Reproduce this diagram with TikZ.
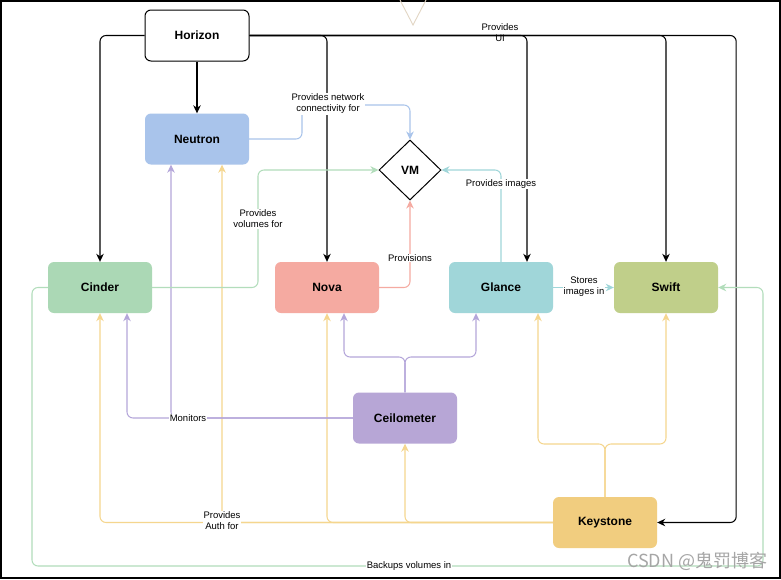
\documentclass[tikz,border=0pt]{standalone}
\usepackage{fontspec}
\setmainfont{Liberation Sans}
\newfontfamily\cjkwm{Noto Sans CJK SC}
\usetikzlibrary{arrows.meta,shapes.geometric}
\definecolor{cNeu}{HTML}{A9C4EB}
\definecolor{cCin}{HTML}{ABD8B5}
\definecolor{cNova}{HTML}{F5AAA1}
\definecolor{cGla}{HTML}{A0D6D9}
\definecolor{cSwi}{HTML}{C0CF8A}
\definecolor{cCei}{HTML}{B7A6D6}
\definecolor{cKey}{HTML}{F1CD7F}
\definecolor{lBlue}{HTML}{A9C4EB}
\definecolor{lGreen}{HTML}{B2DDBB}
\definecolor{lSalmon}{HTML}{F5AAA1}
\definecolor{lTeal}{HTML}{A0D6D9}
\definecolor{lPurple}{HTML}{B4A6DA}
\definecolor{lYellow}{HTML}{F5D68E}
\definecolor{lTri}{HTML}{E2D6C4}
\tikzset{
  comp/.style={rectangle, rounded corners=6pt, minimum width=104pt, minimum height=51pt,
    font=\fontsize{12}{14}\selectfont\bfseries, inner sep=0pt},
  conn/.style={line width=1.05pt, rounded corners=6pt, -{Stealth[length=8pt,width=7.5pt,inset=2.5pt]}},
  elabel/.style={font=\fontsize{9.5}{11}\selectfont, align=center, inner sep=1pt},
  wlabel/.style={elabel, fill=white},
}
\begin{document}
\begin{tikzpicture}[x=1pt,y=-1pt]
\useasboundingbox (0,0) rectangle (781,579);
\fill[white] (0,0) rectangle (781,579);
% frame
\draw[line width=2pt] (1,1) rectangle (780,578);
% partial triangle at top
\draw[lTri, line width=0.9pt] (400,0) -- (413,25) -- (426,0);

% nodes
\node[comp, draw=black, line width=1pt, fill=white] (hz) at (197,35.5) {Horizon};
\node[comp, fill=cNeu] (neu) at (197,139) {Neutron};
\node[diamond, draw=black, line width=1pt, minimum width=62pt, minimum height=60pt, inner sep=0pt,
  font=\fontsize{12}{14}\selectfont\bfseries, fill=white] (vm) at (410,170) {VM};
\node[comp, fill=cCin] (cin) at (100,287.5) {Cinder};
\node[comp, fill=cNova] (nova) at (327,287.5) {Nova};
\node[comp, fill=cGla] (gla) at (501,287.5) {Glance};
\node[comp, fill=cSwi] (swi) at (666,287.5) {Swift};
\node[comp, fill=cCei] (cei) at (405,418) {Ceilometer};
\node[comp, fill=cKey] (key) at (605,522.5) {Keystone};

% waypoints
\coordinate (nb1) at (302,105);
\coordinate (cg1) at (258,170);
\coordinate (cj) at (405,357);
\coordinate (kj) at (605,444);
\coordinate (bb1) at (32,566);
\coordinate (bb2) at (763,566);

% black: Horizon
\draw[conn] (hz.south) -- (neu.north);
\draw[conn] (hz.west) -| (cin.north);
\draw[conn] (hz.east) -| (nova.north);
\draw[conn] (hz.east) -| ([xshift=26pt]gla.north);
\draw[conn] (hz.east) -| (swi.north);
\draw[conn] (hz.east) -| ([xshift=79pt]key.east) -- (key.east);
\node[elabel] (lui) at (500,33) {Provides\\UI};

% green backup (drawn first, underneath)
\draw[conn, lGreen] (cin.west) -| (bb1) -- (bb2) |- (swi.east);
\node[wlabel] (lbk) at (409,566) {Backups volumes in};

% yellow: Keystone
\draw[conn, lYellow] (key.north) -- (kj) -| ([xshift=37pt]gla.south);
\draw[conn, lYellow] (key.north) -- (kj) -| (swi.south);
\draw[conn, lYellow] (key.west) -| (cei.south);
\draw[conn, lYellow] (key.west) -| (nova.south);
\draw[conn, lYellow] (key.west) -| ([xshift=25pt]neu.south);
\draw[conn, lYellow] (key.west) -| (cin.south);
\node[wlabel] (lauth) at (222,521) {Provides\\Auth for};

% purple: Ceilometer
\draw[conn, lPurple] (cei.north) -- (cj) -| ([xshift=17pt]nova.south);
\draw[conn, lPurple] (cei.north) -- (cj) -| ([xshift=-25pt]gla.south);
\draw[conn, lPurple] (cei.west) -| ([xshift=27pt]cin.south);
\draw[conn, lPurple] (cei.west) -| ([xshift=-26pt]neu.south);
\node[wlabel] (lmon) at (188,418) {Monitors};

% blue: Neutron -> VM
\draw[conn, lBlue] (neu.east) -| (nb1) -| (vm.north);
\node[wlabel] (lnet) at (328,104) {Provides network\\connectivity for};

% green: Cinder -> VM
\draw[conn, lGreen] (cin.east) -| (cg1) -- (vm.west);
\node[wlabel] (lvol) at (258,219) {Provides\\volumes for};

% salmon: Nova -> VM
\draw[conn, lSalmon] (nova.east) -| (vm.south);
\node[wlabel] (lprov) at (410,258) {Provisions};

% teal: Glance -> VM, Glance -> Swift
\draw[conn, lTeal] (gla.north) |- (vm.east);
\node[wlabel] (limg) at (501,184) {Provides images};
\draw[conn, lTeal] (gla.east) -- (swi.west);
\node[wlabel] (lsto) at (584,287) {Stores\\images in};

% watermark
\node[text=black!35, font=\cjkwm\fontsize{18}{20}\selectfont, anchor=west, inner sep=0pt] (wm) at (627,561) {CSDN @鬼罚博客};
\end{tikzpicture}
\end{document}
